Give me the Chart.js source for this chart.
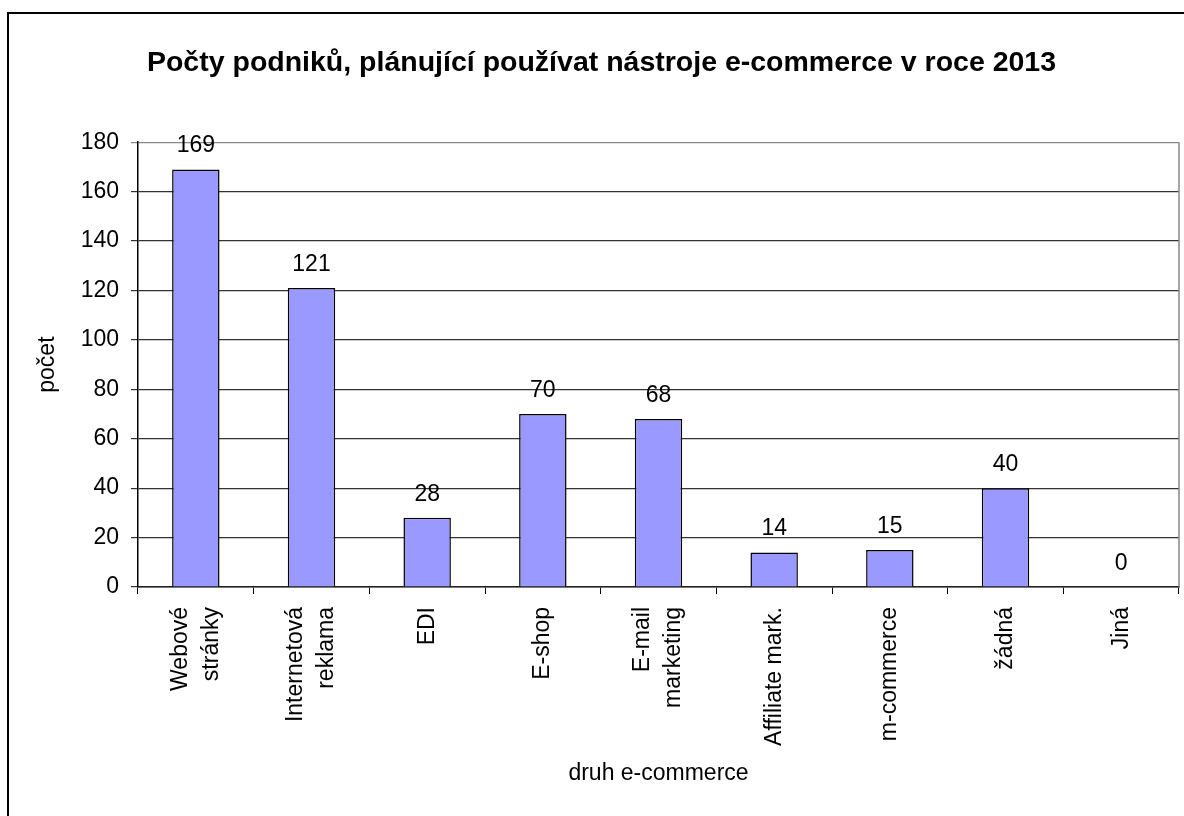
<!DOCTYPE html>
<html>
<head>
<meta charset="utf-8">
<script src="https://cdn.jsdelivr.net/npm/chart.js@4"></script>
<style>
    html, body { margin: 0; padding: 0; background: #fff; }
    #wrap { position: relative; width: 1184px; height: 816px; overflow: hidden; }
    #frame { position: absolute; left: 7px; top: 12px; width: 1300px; height: 900px;
             border-left: 2px solid #000; border-top: 2px solid #000; }
    canvas { position: absolute; left: 0; top: 0; }
</style>
</head>
<body>
<div id="wrap">
    <div id="frame"></div>
    <canvas id="ecomChart" width="1184" height="816"></canvas>
</div>
<script>
// data
const chartTitle = "Počty podniků, plánující používat nástroje e-commerce v roce 2013";
const categories = [
    ["Webové", "stránky"],
    ["Internetová", "reklama"],
    ["EDI"],
    ["E-shop"],
    ["E-mail", "marketing"],
    ["Affiliate mark."],
    ["m-commerce"],
    ["žádná"],
    ["Jiná"]
];
const counts = [169, 121, 28, 70, 68, 14, 15, 40, 0];
const yMin = 0;
const yMax = 180;
const yStep = 20;
const xAxisTitle = "druh e-commerce";
const yAxisTitle = "počet";

const FONT = "'Liberation Sans', Arial, sans-serif";

// value labels above bars
const valueLabels = {
    id: "valueLabels",
    afterDatasetsDraw(chart) {
        const ctx = chart.ctx;
        const meta = chart.getDatasetMeta(0);
        ctx.save();
        ctx.font = `23px ${FONT}`;
        ctx.fillStyle = "#000";
        ctx.textAlign = "center";
        ctx.textBaseline = "alphabetic";
        meta.data.forEach((bar, i) => {
            ctx.fillText(String(counts[i]), bar.x, bar.y - 17);
        });
        ctx.restore();
    }
};

// rotated category labels, lines centred on the tick
const xLabels = {
    id: "xLabels",
    afterDraw(chart) {
        const ctx = chart.ctx;
        const xScale = chart.scales.x;
        const top = chart.chartArea.bottom + 20;
        const lineGap = 31;
        ctx.save();
        ctx.font = `23px ${FONT}`;
        ctx.fillStyle = "#000";
        ctx.textAlign = "right";
        ctx.textBaseline = "middle";
        categories.forEach((lines, i) => {
            const x = xScale.getPixelForTick(i);
            lines.forEach((txt, k) => {
                const off = (k - (lines.length - 1) / 2) * lineGap;
                ctx.save();
                ctx.translate(x + off, top);
                ctx.rotate(-Math.PI / 2);
                ctx.fillText(txt, 0, 0);
                ctx.restore();
            });
        });
        ctx.restore();
    }
};

// grey plot-area edge on the right
const plotEdge = {
    id: "plotEdge",
    beforeDatasetsDraw(chart) {
        const { ctx, chartArea } = chart;
        ctx.save();
        ctx.strokeStyle = "#888";
        ctx.lineWidth = 1.5;
        ctx.beginPath();
        ctx.moveTo(chartArea.right, chartArea.top);
        ctx.lineTo(chartArea.right, chartArea.bottom);
        ctx.stroke();
        ctx.restore();
    }
};

function drawChart() {
    const ctx = document.getElementById("ecomChart").getContext("2d");

    new Chart(ctx, {
        type: "bar",
        data: {
            labels: categories,
            datasets: [{
                data: counts,
                backgroundColor: "#9999FF",
                borderColor: "#000",
                borderWidth: 1.5,
                barPercentage: 0.41,
                categoryPercentage: 1
            }]
        },
        options: {
            responsive: false,
            animation: false,
            layout: { padding: { left: 24, right: 5, top: 0, bottom: 0 } },
            plugins: {
                legend: { display: false },
                tooltip: { enabled: false },
                title: {
                    display: true,
                    text: chartTitle,
                    color: "#000",
                    font: { family: FONT, size: 28.5, weight: "bold" },
                    padding: { top: 46, bottom: 62 }
                }
            },
            scales: {
                x: {
                    grid: {
                        drawOnChartArea: false,
                        color: "#000",
                        tickLength: 7,
                        lineWidth: 1
                    },
                    border: { color: "#222", width: 1.5 },
                    ticks: { display: false },
                    title: {
                        display: true,
                        text: xAxisTitle,
                        color: "#000",
                        font: { family: FONT, size: 23 },
                        padding: { top: 0, bottom: 29 }
                    },
                    afterFit(scale) { scale.height = 229; }
                },
                y: {
                    min: yMin,
                    max: yMax,
                    ticks: {
                        stepSize: yStep,
                        color: "#000",
                        font: { family: FONT, size: 23 },
                        padding: 12
                    },
                    grid: {
                        color: (c) => c.tick && c.tick.value === yMax ? "#888" : "#333",
                        tickLength: 7,
                        lineWidth: 1.2
                    },
                    border: { color: "#000", width: 1.5 },
                    title: {
                        display: true,
                        text: yAxisTitle,
                        color: "#000",
                        font: { family: FONT, size: 23 },
                        padding: { top: 10, bottom: 0 }
                    },
                    afterFit(scale) { scale.width = 114; }
                }
            }
        },
        plugins: [plotEdge, valueLabels, xLabels]
    });
}

drawChart();
</script>
</body>
</html>
